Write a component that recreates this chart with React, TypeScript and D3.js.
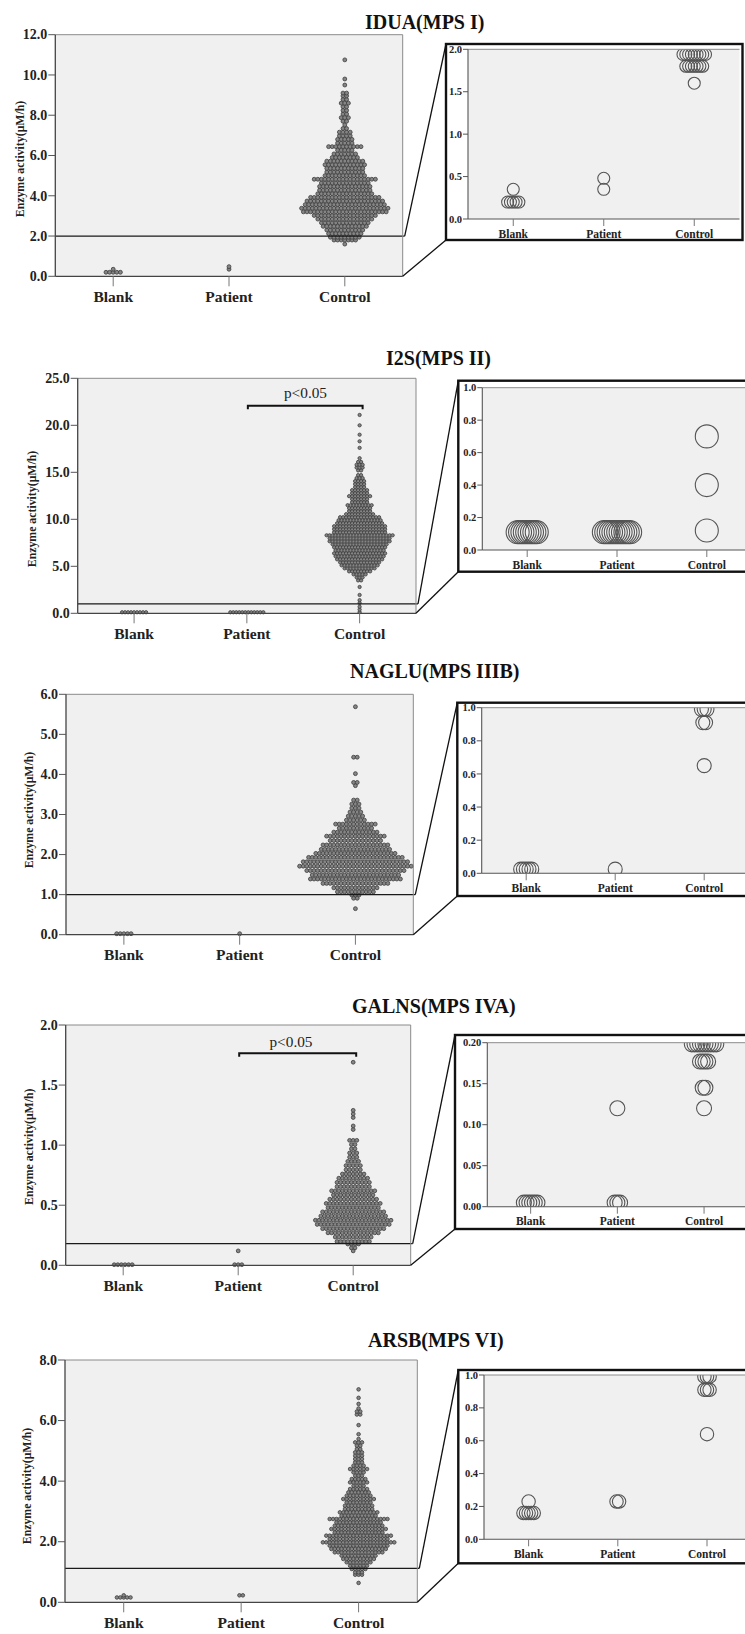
import React from "react";
import * as d3 from "d3";

type Row = [number, number]; // [value, number of dots in that row]

const categories = ["Blank", "Patient", "Control"];

// ---------- IDUA (MPS I) ----------
const iduaTicks = [0, 2, 4, 6, 8, 10, 12];
const iduaInsetTicks = [0, 0.5, 1, 1.5, 2];
const iduaCutoff = 2.0;
const iduaBlank: Row[] = [[0.2, 5], [0.35, 1]];
const iduaPatient: Row[] = [[0.35, 1], [0.48, 1]];
const iduaControl: Row[] = [
  [1.6, 1], [1.8, 7], [1.94, 9], [2.12, 10], [2.3, 11], [2.48, 13], [2.66, 14], [2.84, 16],
  [3.02, 18], [3.2, 24], [3.38, 25], [3.56, 23], [3.74, 22], [3.92, 20], [4.1, 16], [4.28, 15],
  [4.46, 15], [4.64, 14], [4.82, 18], [5.0, 12], [5.18, 11], [5.36, 11], [5.54, 12], [5.72, 11],
  [5.9, 8], [6.08, 7], [6.26, 5], [6.44, 10], [6.62, 5], [6.8, 5], [6.98, 4], [7.16, 4],
  [7.34, 2], [7.52, 1], [7.7, 2], [7.88, 3], [8.06, 2], [8.24, 2], [8.42, 2], [8.6, 3],
  [8.78, 2], [8.96, 2], [9.1, 2], [9.5, 1], [9.8, 1], [10.75, 1],
];

// ---------- I2S (MPS II) ----------
const i2sTicks = [0, 5, 10, 15, 20, 25];
const i2sInsetTicks = [0, 0.2, 0.4, 0.6, 0.8, 1.0];
const i2sCutoff = 1.0;
const i2sBlank: Row[] = [[0.11, 9]];
const i2sPatient: Row[] = [[0.11, 12]];
const i2sControl: Row[] = [
  [0.12, 1], [0.4, 1], [0.7, 1], [1.1, 1], [1.4, 1], [1.95, 1], [2.8, 1], [3.5, 2], [3.82, 3],
  [4.14, 5], [4.46, 8], [4.78, 11], [5.1, 13], [5.42, 14], [5.74, 16], [6.06, 17], [6.38, 18],
  [6.7, 17], [7.02, 18], [7.34, 19], [7.66, 21], [7.98, 21], [8.3, 23], [8.62, 18], [8.94, 18],
  [9.26, 18], [9.58, 16], [9.9, 15], [10.22, 14], [10.54, 10], [10.86, 8], [11.18, 8], [11.5, 9],
  [11.82, 6], [12.14, 6], [12.46, 8], [12.78, 6], [13.1, 6], [13.42, 4], [13.74, 4], [14.06, 4],
  [14.38, 3], [14.7, 2], [15.2, 2], [15.5, 3], [15.8, 3], [16.1, 2], [16.5, 1], [17.6, 1],
  [18.3, 1], [19.0, 1], [20.0, 1], [21.1, 1],
];

// ---------- NAGLU (MPS IIIB) ----------
const nagluTicks = [0, 1, 2, 3, 4, 5, 6];
const nagluInsetTicks = [0, 0.2, 0.4, 0.6, 0.8, 1.0];
const nagluCutoff = 1.0;
const nagluBlank: Row[] = [[0.025, 5]];
const nagluPatient: Row[] = [[0.025, 1]];
const nagluControl: Row[] = [
  [0.65, 1], [0.91, 2], [0.99, 3], [1.07, 11], [1.17, 13], [1.28, 19], [1.39, 26], [1.49, 25],
  [1.6, 28], [1.71, 32], [1.82, 30], [1.93, 27], [2.03, 23], [2.13, 20], [2.24, 19], [2.35, 15],
  [2.46, 17], [2.56, 13], [2.66, 10], [2.76, 12], [2.86, 6], [2.96, 5], [3.06, 4], [3.16, 3],
  [3.26, 3], [3.36, 2], [3.72, 1], [3.8, 2], [4.02, 1], [4.43, 2], [5.69, 1],
];

// ---------- GALNS (MPS IVA) ----------
const galnsTicks = [0, 0.5, 1.0, 1.5, 2.0];
const galnsInsetTicks = [0, 0.05, 0.1, 0.15, 0.2];
const galnsCutoff = 0.18;
const galnsBlank: Row[] = [[0.005, 6]];
const galnsPatient: Row[] = [[0.005, 3], [0.12, 1]];
const galnsControl: Row[] = [
  [0.12, 1], [0.145, 2], [0.177, 4], [0.198, 10], [0.235, 11], [0.27, 15], [0.305, 18],
  [0.34, 21], [0.375, 22], [0.41, 19], [0.445, 18], [0.48, 15], [0.515, 16], [0.55, 14],
  [0.585, 12], [0.62, 13], [0.655, 10], [0.69, 10], [0.725, 9], [0.76, 7], [0.795, 5],
  [0.83, 5], [0.865, 4], [0.9, 3], [0.935, 3], [0.97, 2], [1.005, 2], [1.04, 3], [1.13, 1],
  [1.16, 1], [1.23, 1], [1.26, 1], [1.29, 1], [1.69, 1],
];

// ---------- ARSB (MPS VI) ----------
const arsbTicks = [0, 2, 4, 6, 8];
const arsbInsetTicks = [0, 0.2, 0.4, 0.6, 0.8, 1.0];
const arsbCutoff = 1.12;
const arsbBlank: Row[] = [[0.16, 5], [0.23, 1]];
const arsbPatient: Row[] = [[0.23, 2]];
const arsbControl: Row[] = [
  [0.64, 1], [0.91, 3], [0.99, 3], [1.1, 5], [1.21, 6], [1.32, 8], [1.43, 10], [1.54, 11],
  [1.65, 15], [1.76, 17], [1.87, 18], [1.98, 22], [2.09, 18], [2.2, 20], [2.31, 15], [2.42, 17],
  [2.53, 15], [2.64, 14], [2.75, 18], [2.86, 11], [2.97, 12], [3.08, 9], [3.19, 9], [3.3, 8],
  [3.41, 10], [3.52, 8], [3.63, 7], [3.74, 6], [3.85, 4], [3.96, 6], [4.07, 5], [4.18, 3],
  [4.29, 4], [4.4, 6], [4.51, 4], [4.62, 3], [4.73, 3], [4.84, 3], [4.95, 3], [5.06, 2],
  [5.17, 2], [5.28, 3], [5.39, 1], [5.55, 1], [5.85, 1], [6.2, 2], [6.3, 2], [6.4, 1],
  [6.55, 1], [6.75, 1], [7.03, 1],
];

// ---------- layout (positions / sizes, not data) ----------
const panels = [
  {
    title: "IDUA(MPS I)", titleX: 365, titleY: 28.5,
    main: { l: 55.3, t: 34.7, r: 402.7, b: 276.3 }, yMax: 12, ticks: iduaTicks,
    ylab: { x: 24, y: 159 }, cutoff: iduaCutoff, dot: { r: 1.95, s: 3.6 },
    data: [iduaBlank, iduaPatient, iduaControl], bracket: null as null | { y: number; tx: number; ty: number },
    inset: { ol: 446, ot: 44, ob: 240, l: 468, t: 49.3, b: 219, step: 90.5, yMax: 2, ticks: iduaInsetTicks, fmt: ".1f", r: 6 },
  },
  {
    title: "I2S(MPS II)", titleX: 386, titleY: 365,
    main: { l: 77.7, t: 378.3, r: 416, b: 613.3 }, yMax: 25, ticks: i2sTicks,
    ylab: { x: 36.3, y: 509 }, cutoff: i2sCutoff, dot: { r: 1.65, s: 3.0 },
    data: [i2sBlank, i2sPatient, i2sControl], bracket: { y: 405.7, tx: 305.5, ty: 398 },
    inset: { ol: 458.3, ot: 380.7, ob: 571.7, l: 482.3, t: 387.7, b: 550, step: 89.8, yMax: 1, ticks: i2sInsetTicks, fmt: ".1f", r: 11.5 },
  },
  {
    title: "NAGLU(MPS IIIB)", titleX: 350, titleY: 678,
    main: { l: 66, t: 694.3, r: 413.3, b: 934.7 }, yMax: 6, ticks: nagluTicks,
    ylab: { x: 33.3, y: 810 }, cutoff: nagluCutoff, dot: { r: 1.95, s: 3.6 },
    data: [nagluBlank, nagluPatient, nagluControl], bracket: null,
    inset: { ol: 457.3, ot: 702.7, ob: 896, l: 481.7, t: 707.7, b: 873.3, step: 89, yMax: 1, ticks: nagluInsetTicks, fmt: ".1f", r: 7 },
  },
  {
    title: "GALNS(MPS IVA)", titleX: 352, titleY: 1013.3,
    main: { l: 65.7, t: 1025, r: 410.7, b: 1265.3 }, yMax: 2, ticks: galnsTicks,
    ylab: { x: 33, y: 1146.7 }, cutoff: galnsCutoff, dot: { r: 1.9, s: 3.6 },
    data: [galnsBlank, galnsPatient, galnsControl], bracket: { y: 1053.3, tx: 291, ty: 1047 },
    inset: { ol: 455, ot: 1035, ob: 1229, l: 487.3, t: 1042.7, b: 1206.7, step: 86.7, yMax: 0.2, ticks: galnsInsetTicks, fmt: ".2f", r: 7.5 },
  },
  {
    title: "ARSB(MPS VI)", titleX: 368, titleY: 1346.7,
    main: { l: 65, t: 1360, r: 417.3, b: 1602.3 }, yMax: 8, ticks: arsbTicks,
    ylab: { x: 31.3, y: 1486 }, cutoff: arsbCutoff, dot: { r: 1.8, s: 3.4 },
    data: [arsbBlank, arsbPatient, arsbControl], bracket: null,
    inset: { ol: 458.3, ot: 1370, ob: 1563.3, l: 484, t: 1375, b: 1539.3, step: 89.2, yMax: 1, ticks: arsbInsetTicks, fmt: ".1f", r: 6.7 },
  },
];

const FONT = "'Liberation Serif', 'Times New Roman', serif";

function expand(rows: Row[], cx: number, spacing: number) {
  return rows.flatMap(([v, n]) => d3.range(n).map((i) => ({ v, x: cx + (i - (n - 1) / 2) * spacing })));
}

function Panel({ p, idx }: { p: (typeof panels)[number]; idx: number }) {
  const m = p.main;
  const x = d3.scalePoint<string>().domain(categories).range([m.l, m.r]).padding(0.5);
  const y = d3.scaleLinear().domain([0, p.yMax]).range([m.b, m.t]);
  const ins = p.inset;
  const ir = ins.l + 3 * ins.step;
  const xi = d3.scalePoint<string>().domain(categories).range([ins.l, ir]).padding(0.5);
  const yi = d3.scaleLinear().domain([0, ins.yMax]).range([ins.b, ins.t]);
  const insSpacing = (p.dot.s * xi.step()) / x.step();
  const fmt = d3.format(".1f");
  const fmtI = d3.format(ins.fmt);
  const clipId = `insclip${idx}`;
  const yc = y(p.cutoff);

  return (
    <g>
      <text x={p.titleX} y={p.titleY} fontSize={20} fontWeight="bold" fill="#111">{p.title}</text>

      {/* main plot */}
      <rect x={m.l} y={m.t} width={m.r - m.l} height={m.b - m.t} fill="#f0f0f0" />
      {categories.map((c, ci) =>
        expand(p.data[ci], x(c)!, p.dot.s).map((d, k) => (
          <circle key={c + k} cx={d.x} cy={y(d.v)} r={p.dot.r} fill="#858585" stroke="#3c3c3c" strokeWidth={0.8} />
        ))
      )}
      <line x1={m.l} x2={m.r + 2} y1={yc} y2={yc} stroke="#1a1a1a" strokeWidth={1.3} />
      <line x1={m.l} x2={m.r} y1={m.t} y2={m.t} stroke="#8a8a8a" strokeWidth={1} />
      <line x1={m.r} x2={m.r} y1={m.t} y2={m.b} stroke="#8a8a8a" strokeWidth={1} />
      <line x1={m.l} x2={m.l} y1={m.t} y2={m.b} stroke="#444" strokeWidth={1.3} />
      <line x1={m.l} x2={m.r} y1={m.b} y2={m.b} stroke="#444" strokeWidth={1.3} />
      {p.ticks.map((t) => (
        <g key={t}>
          <line x1={m.l - 7} x2={m.l} y1={y(t)} y2={y(t)} stroke="#555" strokeWidth={1} />
          <text x={m.l - 8} y={y(t)} dy="0.34em" textAnchor="end" fontSize={14} fontWeight="bold" fill="#222">{fmt(t)}</text>
        </g>
      ))}
      {categories.map((c) => (
        <g key={c}>
          <line x1={x(c)} x2={x(c)} y1={m.b} y2={m.b + 10} stroke="#777" strokeWidth={1} />
          <text x={x(c)} y={m.b + 25.6} textAnchor="middle" fontSize={15.5} fontWeight="bold" fill="#222">{c}</text>
        </g>
      ))}
      <text transform={`translate(${p.ylab.x},${p.ylab.y}) rotate(-90)`} textAnchor="middle" fontSize={11.8} fontWeight="bold" fill="#222">
        Enzyme activity(μM/h)
      </text>
      {p.bracket && (
        <g>
          <path
            d={`M${x("Patient")! + 1},${p.bracket.y + 3.5}V${p.bracket.y}H${x("Control")! + 3}V${p.bracket.y + 3.5}`}
            fill="none" stroke="#111" strokeWidth={2}
          />
          <text x={p.bracket.tx} y={p.bracket.ty} textAnchor="middle" fontSize={15.3} fill="#222">p&lt;0.05</text>
        </g>
      )}

      {/* connectors */}
      <line x1={m.r + 2} y1={yc} x2={ins.ol} y2={ins.ot} stroke="#111" strokeWidth={1.3} />
      <line x1={m.r} y1={m.b} x2={ins.ol} y2={ins.ob} stroke="#111" strokeWidth={1.3} />

      {/* inset */}
      <rect x={ins.ol} y={ins.ot} width={ir + 3 - ins.ol} height={ins.ob - ins.ot} fill="#fff" stroke="#111" strokeWidth={2.4} />
      <rect x={ins.l} y={ins.t} width={ir - ins.l} height={ins.b - ins.t} fill="#f0f0f0" />
      <clipPath id={clipId}>
        <rect x={ins.l} y={ins.t} width={ir - ins.l} height={ins.b - ins.t} />
      </clipPath>
      <g clipPath={`url(#${clipId})`}>
        {categories.map((c, ci) =>
          expand(p.data[ci].filter(([v]) => v <= ins.yMax * 1.1), xi(c)!, insSpacing).map((d, k) => (
            <circle key={c + k} cx={d.x} cy={yi(d.v)} r={ins.r} fill="none" stroke="#555" strokeWidth={1.1} />
          ))
        )}
      </g>
      <line x1={ins.l} x2={ir} y1={ins.t} y2={ins.t} stroke="#8a8a8a" strokeWidth={1} />
      <line x1={ins.l} x2={ins.l} y1={ins.t} y2={ins.b} stroke="#555" strokeWidth={1.1} />
      <line x1={ins.l} x2={ir} y1={ins.b} y2={ins.b} stroke="#555" strokeWidth={1.1} />
      {ins.ticks.map((t) => (
        <g key={t}>
          <line x1={ins.l - 5} x2={ins.l} y1={yi(t)} y2={yi(t)} stroke="#555" strokeWidth={1} />
          <text x={ins.l - 6} y={yi(t)} dy="0.34em" textAnchor="end" fontSize={10.5} fontWeight="bold" fill="#222">{fmtI(t)}</text>
        </g>
      ))}
      {categories.map((c) => (
        <g key={c}>
          <line x1={xi(c)} x2={xi(c)} y1={ins.b} y2={ins.b + 7} stroke="#777" strokeWidth={1} />
          <text x={xi(c)} y={ins.b + 18.5} textAnchor="middle" fontSize={11.5} fontWeight="bold" fill="#222">{c}</text>
        </g>
      ))}
    </g>
  );
}

export default function App() {
  return (
    <svg
      width={745}
      height={1634}
      viewBox="0 0 745 1634"
      style={{ position: "absolute", left: 0, top: 0, display: "block" }}
      fontFamily={FONT}
    >
      <rect width={745} height={1634} fill="#fff" />
      {panels.map((p, i) => (
        <Panel key={i} p={p} idx={i} />
      ))}
    </svg>
  );
}
